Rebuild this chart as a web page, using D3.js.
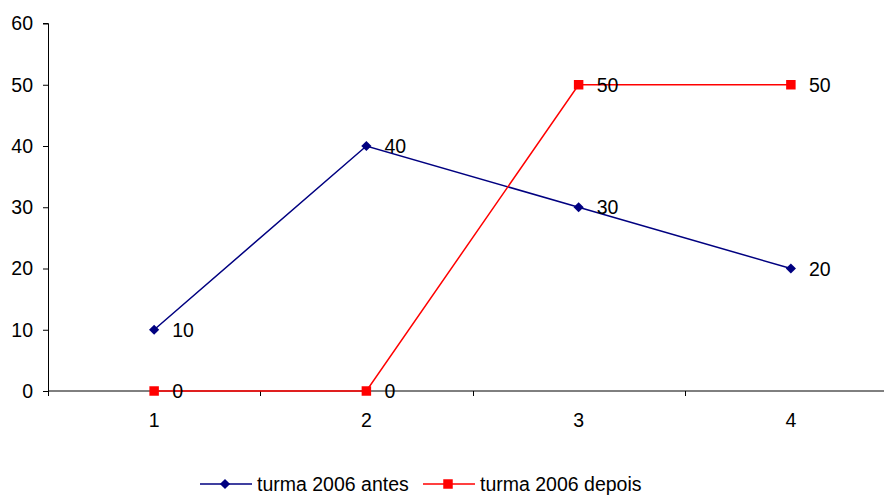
<!DOCTYPE html>
<html>
<head>
<meta charset="utf-8">
<script src="https://cdn.jsdelivr.net/npm/d3@7"></script>
<style>
  body { margin: 0; background: #fff; }
  text { font-family: "Liberation Sans", Arial, sans-serif; }
</style>
</head>
<body>
<div id="chart"></div>
<script>
// chart data
var categories = ["1", "2", "3", "4"];
var antes = [10, 40, 30, 20];
var depois = [0, 0, 50, 50];
var yTicks = [0, 10, 20, 30, 40, 50, 60];
var seriesNames = ["turma 2006 antes", "turma 2006 depois"];

var svgWidth = 884;
var svgHeight = 495;
var fontSize = 19.5;

var svg = d3.select("#chart")
  .append("svg")
  .attr("width", svgWidth)
  .attr("height", svgHeight);

// x spans past the right edge, like the original
var xScale = d3.scaleBand()
  .domain(categories)
  .range([48, 897]);

var yScale = d3.scaleLinear()
  .domain([0, 60])
  .range([391, 23.5]);

// y axis
var leftAxis = d3.axisLeft(yScale)
  .tickValues(yTicks)
  .tickSize(5)
  .tickPadding(10);

var yAxis = svg.append("g")
  .attr("transform", "translate(48,0)")
  .call(leftAxis);
yAxis.attr("font-family", null).attr("font-size", null);
yAxis.select(".domain").attr("stroke", "#000")
  .attr("d", `M-5,${yScale(60)}H0.5V${yScale(0)}`);
yAxis.selectAll("text").attr("font-size", fontSize).attr("fill", "#000");

// x axis with ticks between categories
var boundaries = [0, 1, 2, 3, 4].map(function(i) { return 48 + i * xScale.step(); });
var xg = svg.append("g");
xg.append("line")
  .attr("x1", 48).attr("x2", 897)
  .attr("y1", yScale(0)).attr("y2", yScale(0))
  .attr("stroke", "#000");
xg.selectAll(".xtick")
  .data(boundaries)
  .enter()
  .append("line")
  .attr("x1", d => Math.round(d) + 0.5)
  .attr("x2", d => Math.round(d) + 0.5)
  .attr("y1", yScale(0)).attr("y2", yScale(0) + 5)
  .attr("stroke", "#000");
xg.selectAll(".xlabel")
  .data(categories)
  .enter()
  .append("text")
  .attr("x", d => xScale(d) + xScale.bandwidth() / 2)
  .attr("y", 427)
  .attr("text-anchor", "middle")
  .attr("font-size", fontSize)
  .text(d => d);

var cx = d => xScale(d) + xScale.bandwidth() / 2;

var line = d3.line()
  .x((d, i) => cx(categories[i]))
  .y(d => yScale(d));

function marker(shape) {
  return d3.symbol().type(d3.symbolSquare).size(shape === "square" ? 90 : 52)();
}

function drawSeries(values, color, shape) {
  svg.append("path")
    .datum(values)
    .attr("fill", "none")
    .attr("stroke", color)
    .attr("stroke-width", 1.5)
    .attr("d", line);

  svg.selectAll(null)
    .data(values)
    .enter()
    .append("path")
    .attr("d", marker(shape))
    .attr("transform", (d, i) => `translate(${cx(categories[i])},${yScale(d)})` + (shape === "square" ? "" : " rotate(45)"))
    .attr("fill", color);

  svg.selectAll(null)
    .data(values)
    .enter()
    .append("text")
    .attr("x", (d, i) => cx(categories[i]) + 18)
    .attr("y", d => yScale(d) + 7)
    .attr("font-size", fontSize)
    .attr("fill", "#000")
    .text(d => d);
}

drawSeries(antes, "#000080", "diamond");
drawSeries(depois, "#ff0000", "square");

// legend
var legend = svg.append("g");
var legendItems = [
  { name: seriesNames[0], color: "#000080", x: 200, shape: "diamond" },
  { name: seriesNames[1], color: "#ff0000", x: 423, shape: "square" }
];
legendItems.forEach(function(item) {
  legend.append("line")
    .attr("x1", item.x).attr("x2", item.x + 52)
    .attr("y1", 484).attr("y2", 484)
    .attr("stroke", item.color)
    .attr("stroke-width", 1.5);
  legend.append("path")
    .attr("d", marker(item.shape))
    .attr("transform", `translate(${item.x + 25},484)` + (item.shape === "square" ? "" : " rotate(45)"))
    .attr("fill", item.color);
  legend.append("text")
    .attr("x", item.x + 57)
    .attr("y", 491)
    .attr("font-size", fontSize)
    .text(item.name);
});
</script>
</body>
</html>
